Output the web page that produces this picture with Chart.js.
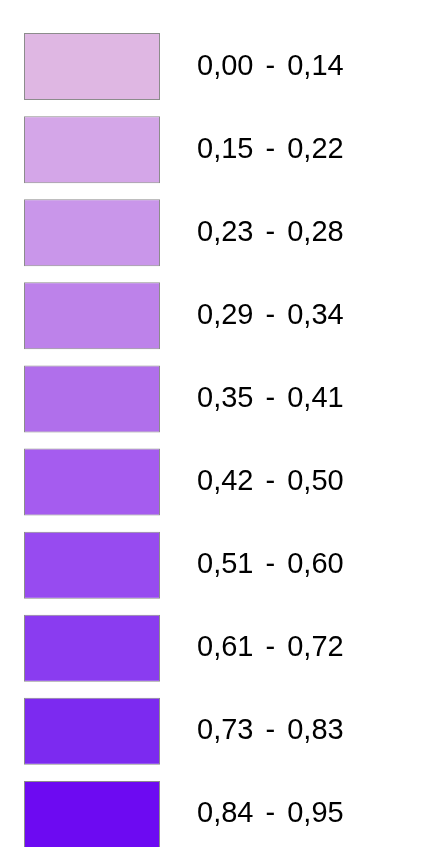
<!DOCTYPE html>
<html>
<head>
<meta charset="utf-8">
<script src="https://cdn.jsdelivr.net/npm/chart.js@4/dist/chart.umd.min.js"></script>
<style>
  html, body { margin: 0; padding: 0; background: #fff; overflow: hidden; }
  #legendChart { display: block; }
</style>
</head>
<body>
<canvas id="legendChart" width="446" height="880"></canvas>
<script>
// class ranges shown in the legend
var rangeLabels = ["0,00 - 0,14", "0,15 - 0,22", "0,23 - 0,28", "0,29 - 0,34", "0,35 - 0,41",
                   "0,42 - 0,50", "0,51 - 0,60", "0,61 - 0,72", "0,73 - 0,83", "0,84 - 0,95"];
// every swatch is the same size
var swatchValues = [1, 1, 1, 1, 1, 1, 1, 1, 1, 1];
var swatchColors = ["#dfb7e3", "#d4a6e8", "#c996ea", "#bd82ea", "#b06feb",
                    "#a55cef", "#974bf0", "#8a3cf0", "#7c2af0", "#6d0af2"];

// labels in the source have a little extra room around the dash
var wordGap = {
  id: "wordGap",
  beforeDraw: function (chart) { chart.ctx.wordSpacing = "4px"; }
};

var ctx = document.getElementById("legendChart").getContext("2d");
new Chart(ctx, {
  type: "bar",
  data: {
    labels: rangeLabels,
    datasets: [{
      data: swatchValues,
      backgroundColor: swatchColors,
      borderColor: "#8c8c8c",
      borderWidth: 1,
      borderSkipped: false,
      categoryPercentage: 1,
      barPercentage: 0.806
    }]
  },
  plugins: [wordGap],
  options: {
    indexAxis: "y",
    responsive: false,
    devicePixelRatio: 1,
    animation: false,
    layout: { padding: { left: 24, top: 25, bottom: 24, right: 0 } },
    plugins: { legend: { display: false }, tooltip: { enabled: false } },
    scales: {
      x: { display: false, min: 0, max: 1 },
      y: {
        position: "right",
        grid: { display: false, drawTicks: false },
        border: { display: false },
        afterFit: function (scale) {
          scale.width = 286;
          scale.paddingTop = 0;
          scale.paddingBottom = 0;
        },
        ticks: {
          padding: 37,
          color: "#000",
          font: { family: "'Liberation Sans', Arial, sans-serif", size: 29 }
        }
      }
    }
  }
});
</script>
</body>
</html>
